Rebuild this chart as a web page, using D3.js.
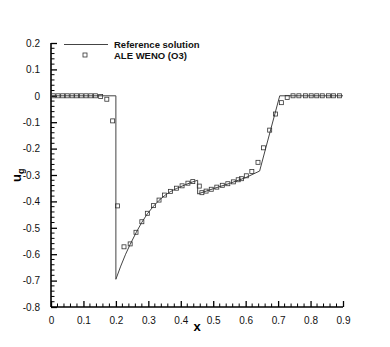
<!DOCTYPE html>
<html>
<head>
<meta charset="utf-8">
<script src="https://cdn.jsdelivr.net/npm/d3@7"></script>
<style>
  body { margin: 0; background: #fff; }
  svg { display: block; font-family: "Liberation Sans", Arial, sans-serif; }
</style>
</head>
<body>
<div id="d3-container"></div>
<script>
/**
 * CONSTANTS AND GLOBALS
 * */
const width = 390,
  height = 347,
  margin = { top: 43, bottom: 40, left: 51, right: 47 };

// reference solution (solid line)
const refX = [0, 0.2, 0.2, 0.215, 0.23, 0.244, 0.262, 0.28, 0.297, 0.316, 0.333, 0.35, 0.368, 0.387, 0.404, 0.422, 0.437, 0.452,
  0.452, 0.5, 0.55, 0.6, 0.643, 0.705, 0.9];
const refY = [0, 0, -0.695, -0.645, -0.6, -0.563, -0.519, -0.479, -0.447, -0.418, -0.396, -0.378, -0.363, -0.351, -0.342, -0.333, -0.326, -0.32,
  -0.372, -0.352, -0.332, -0.31, -0.285, 0, 0];

// ALE WENO (O3) cell values (squares)
const aleX = [0.007, 0.0216, 0.036, 0.05, 0.065, 0.079, 0.0935, 0.108, 0.1225, 0.137, 0.153, 0.172, 0.19, 0.205, 0.225,
  0.244, 0.262, 0.28, 0.297, 0.316, 0.333, 0.35, 0.368, 0.387, 0.404, 0.422, 0.437,
  0.457, 0.465, 0.478, 0.494, 0.511, 0.528, 0.545, 0.562, 0.577, 0.587, 0.602, 0.619, 0.638, 0.655, 0.674, 0.692, 0.71, 0.728,
  0.746, 0.764, 0.784, 0.802, 0.819, 0.836, 0.855, 0.871, 0.889];
const aleY = [0, 0, 0, 0, 0, 0, 0, 0, 0, 0, -0.003, -0.013, -0.095, -0.417, -0.572,
  -0.561, -0.517, -0.477, -0.445, -0.416, -0.395, -0.376, -0.362, -0.35, -0.341, -0.331, -0.325,
  -0.342, -0.367, -0.361, -0.354, -0.346, -0.339, -0.333, -0.326, -0.318, -0.314, -0.303, -0.287, -0.252, -0.197, -0.13, -0.069, -0.026, -0.006,
  0, 0, 0, 0, 0, 0, 0, 0, 0];

const xTicks = [0, 0.1, 0.2, 0.3, 0.4, 0.5, 0.6, 0.7, 0.8, 0.9];
const xTickLabels = ["0", "0.1", "0.2", "0.3", "0.4", "0.5", "0.6", "0.7", "0.8", "0.9"];
const yTicks = [0.2, 0.1, 0, -0.1, -0.2, -0.3, -0.4, -0.5, -0.6, -0.7, -0.8];
const yTickLabels = ["0.2", "0.1", "0", "-0.1", "-0.2", "-0.3", "-0.4", "-0.5", "-0.6", "-0.7", "-0.8"];

const seriesNames = ["Reference solution", "ALE WENO (O3)"];

let svg;

init();

function init() {
  svg = d3.select("#d3-container")
    .append("svg")
    .attr("width", width)
    .attr("height", height);

  const x = d3.scaleLinear().domain([0, 0.9]).range([margin.left, width - margin.right]);
  const y = d3.scaleLinear().domain([-0.8, 0.2]).range([height - margin.bottom, margin.top]);

  // minor ticks every 0.02
  const xMinor = d3.range(0, 0.9001, 0.02).filter(v => Math.abs(v * 10 - Math.round(v * 10)) > 1e-6);
  const yMinor = d3.range(-0.8, 0.2001, 0.02).filter(v => Math.abs(v * 10 - Math.round(v * 10)) > 1e-6);

  const xAxis = svg.append("g")
    .attr("transform", `translate(0,${height - margin.bottom})`)
    .call(d3.axisBottom(x).tickValues(xTicks).tickSize(-6).tickPadding(10)
      .tickFormat((d, i) => xTickLabels[i]));
  xAxis.select(".domain").attr("d", `M${x(0)},0H${x(0.9)}`).attr("stroke-width", 1.6);
  xAxis.selectAll(".tick line").attr("stroke-width", 1.3);
  xAxis.selectAll(".tick text").attr("font-size", "10px").attr("fill", "#111")
    .attr("font-family", "Liberation Sans, Arial, sans-serif");
  xAxis.selectAll(".minor").data(xMinor).join("line")
    .attr("class", "minor")
    .attr("x1", d => x(d)).attr("x2", d => x(d))
    .attr("y1", 0).attr("y2", -3.5)
    .attr("stroke", "#000").attr("stroke-width", 1);

  const yAxis = svg.append("g")
    .attr("transform", `translate(${margin.left},0)`)
    .call(d3.axisLeft(y).tickValues(yTicks).tickSize(-6).tickPadding(11)
      .tickFormat((d, i) => yTickLabels[i]));
  yAxis.select(".domain").attr("d", `M0,${y(-0.8)}V${y(0.2)}`).attr("stroke-width", 1.6);
  yAxis.selectAll(".tick line").attr("stroke-width", 1.3);
  yAxis.selectAll(".tick text").attr("font-size", "10px").attr("fill", "#111")
    .attr("font-family", "Liberation Sans, Arial, sans-serif");
  yAxis.selectAll(".minor").data(yMinor).join("line")
    .attr("class", "minor")
    .attr("x1", 0).attr("x2", 3.5)
    .attr("y1", d => y(d)).attr("y2", d => y(d))
    .attr("stroke", "#000").attr("stroke-width", 1);

  // reference solution line
  const refData = refX.map((v, i) => [v, refY[i]]);
  const line = d3.line().x(d => x(d[0])).y(d => y(d[1]));
  svg.append("path")
    .datum(refData)
    .attr("d", line)
    .attr("fill", "none")
    .attr("stroke", "#444")
    .attr("stroke-width", 1);

  // ALE WENO squares
  const aleData = aleX.map((v, i) => [v, aleY[i]]);
  const s = 4;
  svg.selectAll(".ale")
    .data(aleData)
    .join("rect")
    .attr("class", "ale")
    .attr("x", d => x(d[0]) - s / 2)
    .attr("y", d => y(d[1]) - s / 2)
    .attr("width", s).attr("height", s)
    .attr("fill", "none")
    .attr("stroke", "#333")
    .attr("stroke-width", 0.8);

  // legend
  const legend = svg.append("g");
  legend.append("line")
    .attr("x1", 64).attr("x2", 108).attr("y1", 44.5).attr("y2", 44.5)
    .attr("stroke", "#444").attr("stroke-width", 1);
  legend.append("rect")
    .attr("x", 85 - s / 2).attr("y", 55 - s / 2).attr("width", s).attr("height", s)
    .attr("fill", "none").attr("stroke", "#333").attr("stroke-width", 0.8);
  legend.selectAll("text")
    .data(seriesNames)
    .join("text")
    .attr("x", 114)
    .attr("y", (d, i) => 48 + i * 11)
    .attr("font-size", "9.5px")
    .attr("font-weight", "bold")
    .attr("fill", "#111")
    .text(d => d);

  // axis titles
  svg.append("text")
    .attr("x", x(0.45))
    .attr("y", 331)
    .attr("text-anchor", "middle")
    .attr("font-size", "13px")
    .attr("font-weight", "bold")
    .text("x");

  const yt = svg.append("text")
    .attr("transform", "translate(21,182) rotate(-90)")
    .attr("text-anchor", "start")
    .attr("font-size", "13px")
    .attr("font-weight", "bold");
  yt.append("tspan").text("u");
  yt.append("tspan").attr("font-size", "9px").attr("dy", 3).text("g");
}
</script>
</body>
</html>
